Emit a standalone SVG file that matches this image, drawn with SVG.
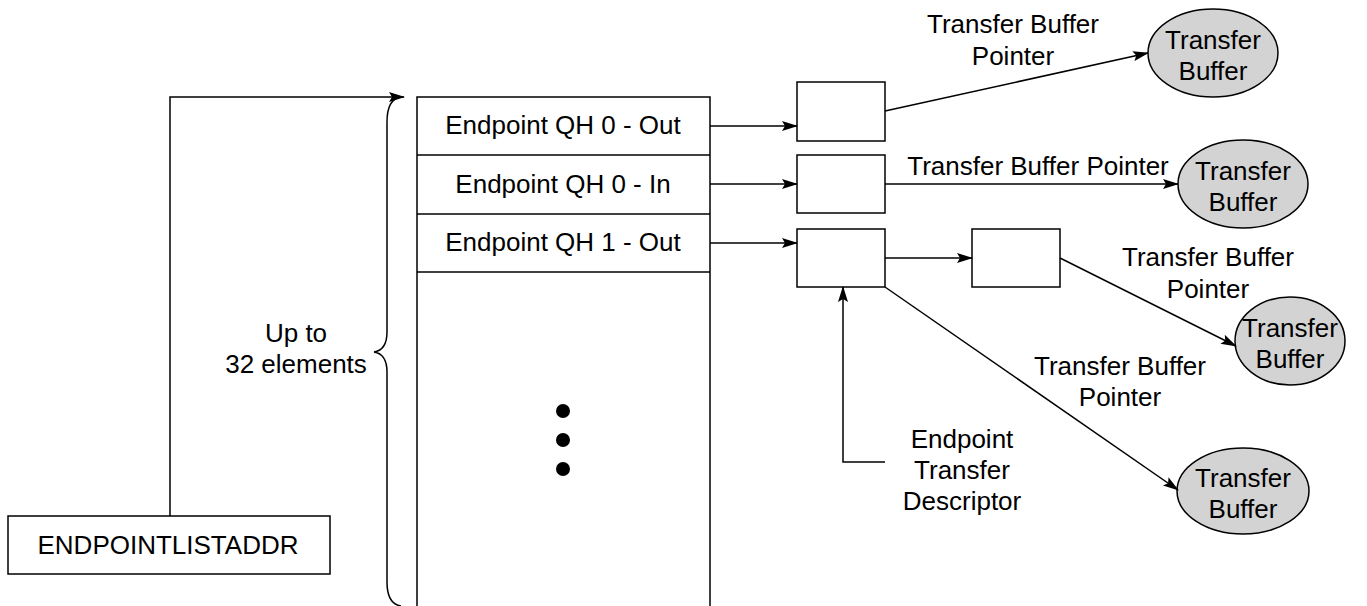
<svg xmlns="http://www.w3.org/2000/svg" width="1367" height="606" viewBox="0 0 1367 606">
<style>
text{font-family:"Liberation Sans",Arial,sans-serif;font-size:26px;fill:#000;text-anchor:middle}
.s{fill:none;stroke:#000;stroke-width:1.5}
.b{fill:#fff;stroke:#000;stroke-width:1.5}
.e{fill:#d3d3d3;stroke:#000;stroke-width:1.5}
</style>
<defs>
<marker id="ah" viewBox="0 0 16 10" refX="15" refY="5" markerWidth="16" markerHeight="10" markerUnits="userSpaceOnUse" orient="auto">
<path d="M0,0 L16,5 L0,10 L3,5 z" fill="#000"/>
</marker>
</defs>
<rect width="1367" height="606" fill="#fff"/>
<g id="endpoint-list">
<path class="s" d="M417,606 L417,97 L710,97 L710,606"/>
<line class="s" x1="417" y1="155" x2="710" y2="155"/>
<line class="s" x1="417" y1="214" x2="710" y2="214"/>
<line class="s" x1="417" y1="272" x2="710" y2="272"/>
<text x="563" y="134">Endpoint QH 0 - Out</text>
<text x="563" y="193">Endpoint QH 0 - In</text>
<text x="563" y="251">Endpoint QH 1 - Out</text>
<circle cx="563" cy="411" r="7" fill="#000"/>
<circle cx="563" cy="440" r="7" fill="#000"/>
<circle cx="563" cy="469" r="7" fill="#000"/>
</g>
<g id="brace">
<path class="s" d="M401,97 Q387,99 387,122 L387,332 Q387,350 374,352 Q387,354 387,372 L387,582 Q387,604 401,606"/>
<text x="296" y="342">Up to</text>
<text x="296" y="373">32 elements</text>
</g>
<g id="endpointlistaddr">
<rect class="b" x="8" y="516" width="322" height="58"/>
<text x="168" y="554">ENDPOINTLISTADDR</text>
</g>
<g id="td1"><rect class="b" x="797" y="82" width="88" height="59"/></g>
<g id="td2"><rect class="b" x="797" y="155" width="88" height="58"/></g>
<g id="td3"><rect class="b" x="797" y="229" width="88" height="58"/></g>
<g id="td4"><rect class="b" x="972" y="229" width="88" height="58"/></g>
<g id="buf1"><ellipse class="e" cx="1213" cy="53" rx="65" ry="44"/><text x="1213" y="49">Transfer</text><text x="1213" y="80">Buffer</text></g>
<g id="buf2"><ellipse class="e" cx="1243" cy="184" rx="65" ry="44"/><text x="1243" y="180">Transfer</text><text x="1243" y="211">Buffer</text></g>
<g id="buf3"><ellipse class="e" cx="1290" cy="341" rx="55" ry="44"/><text x="1290" y="337">Transfer</text><text x="1290" y="368">Buffer</text></g>
<g id="buf4"><ellipse class="e" cx="1243" cy="491" rx="66" ry="43"/><text x="1243" y="487">Transfer</text><text x="1243" y="518">Buffer</text></g>
<g id="descriptor-label">
<text x="962" y="448">Endpoint</text>
<text x="962" y="479">Transfer</text>
<text x="962" y="510">Descriptor</text>
</g>
<g id="connectors">
<path class="s" d="M170,516 L170,97 L404,97" marker-end="url(#ah)"/>
<line class="s" x1="710" y1="126" x2="797" y2="126" marker-end="url(#ah)"/>
<line class="s" x1="710" y1="184" x2="797" y2="184" marker-end="url(#ah)"/>
<line class="s" x1="710" y1="243" x2="797" y2="243" marker-end="url(#ah)"/>
<line class="s" x1="885" y1="258" x2="972" y2="258" marker-end="url(#ah)"/>
<line class="s" x1="885" y1="111" x2="1148" y2="53" marker-end="url(#ah)"/>
<line class="s" x1="885" y1="184" x2="1178" y2="184" marker-end="url(#ah)"/>
<line class="s" x1="1060" y1="258" x2="1236" y2="346" marker-end="url(#ah)"/>
<line class="s" x1="885" y1="287" x2="1178" y2="490" marker-end="url(#ah)"/>
<path class="s" d="M885,462 L843,462 L843,287" marker-end="url(#ah)"/>
<text x="1013" y="33">Transfer Buffer</text>
<text x="1013" y="65">Pointer</text>
<text x="1038" y="175">Transfer Buffer Pointer</text>
<text x="1208" y="266">Transfer Buffer</text>
<text x="1208" y="298">Pointer</text>
<text x="1120" y="375">Transfer Buffer</text>
<text x="1120" y="406">Pointer</text>
</g>
</svg>
